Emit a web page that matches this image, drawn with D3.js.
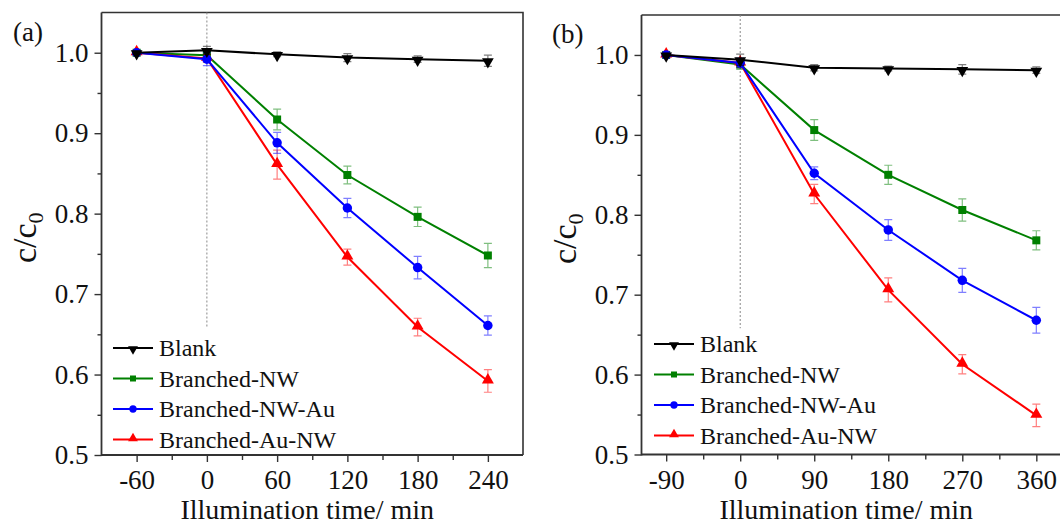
<!DOCTYPE html>
<html>
<head>
<meta charset="utf-8">
<script src="https://cdn.jsdelivr.net/npm/d3@7"></script>
<style>
  body { margin: 0; background: #fff; }
  svg { display: block; }
  svg text { font-family: "Liberation Serif", "Tinos", "Times New Roman", "DejaVu Serif", serif !important; fill: #111; }
</style>
</head>
<body>
<svg id="chart" width="1060" height="525" font-family="Liberation Serif, DejaVu Serif, serif"></svg>
<script>
// Series shared by both panels
const seriesNames = ["Blank", "Branched-NW", "Branched-NW-Au", "Branched-Au-NW"];
const seriesColors = ["#000000", "#008000", "#0000ff", "#ff0000"];
const seriesSymbols = ["down", "square", "circle", "up"];

// Panel (a): 60 min in the dark, then 240 min of illumination
const timesA = [-60, 0, 60, 120, 180, 240];
const blankA = [1.000, 1.003, 0.998, 0.994, 0.992, 0.990];
const nwA    = [1.000, 0.997, 0.917, 0.848, 0.796, 0.748];
const nwAuA  = [1.000, 0.992, 0.888, 0.807, 0.733, 0.661];
const auNwA  = [1.000, 0.993, 0.861, 0.746, 0.659, 0.592];
const blankErrA = [0.002, 0.005, 0.003, 0.005, 0.004, 0.007];
const nwErrA    = [0.002, 0.004, 0.013, 0.011, 0.012, 0.015];
const nwAuErrA  = [0.002, 0.008, 0.013, 0.012, 0.014, 0.012];
const auNwErrA  = [0.002, 0.005, 0.018, 0.010, 0.011, 0.014];
const xTicksA = [-60, 0, 60, 120, 180, 240];
const xMinorA = [-90, -30, 30, 90, 150, 210, 270];

// Panel (b): 90 min in the dark, then 360 min of illumination
const timesB = [-90, 0, 90, 180, 270, 360];
const blankB = [1.000, 0.994, 0.984, 0.983, 0.982, 0.981];
const nwB    = [1.000, 0.988, 0.906, 0.850, 0.806, 0.768];
const nwAuB  = [1.000, 0.990, 0.852, 0.781, 0.718, 0.668];
const auNwB  = [1.000, 0.990, 0.826, 0.706, 0.613, 0.549];
const blankErrB = [0.002, 0.007, 0.004, 0.003, 0.006, 0.004];
const nwErrB    = [0.002, 0.006, 0.013, 0.012, 0.014, 0.012];
const nwAuErrB  = [0.002, 0.006, 0.008, 0.013, 0.015, 0.016];
const auNwErrB  = [0.002, 0.005, 0.012, 0.015, 0.012, 0.014];
const xTicksB = [-90, 0, 90, 180, 270, 360];
const xMinorB = [-135, -45, 45, 135, 225, 315];

const yTicks = [0.5, 0.6, 0.7, 0.8, 0.9, 1.0];
const yMinor = [0.55, 0.65, 0.75, 0.85, 0.95, 1.05];

const panels = [
  {
    tag: "(a)", times: timesA,
    values: [blankA, nwA, nwAuA, auNwA],
    errors: [blankErrA, nwErrA, nwAuErrA, auNwErrA],
    xDomain: [-90, 270], xTicks: xTicksA, xMinor: xMinorA,
    box: { left: 101.5, right: 523, top: 12.5, bottom: 455 },
    tagPos: [13, 41],
    legend: { x: 113, y: 348, step: 30.5 }
  },
  {
    tag: "(b)", times: timesB,
    values: [blankB, nwB, nwAuB, auNwB],
    errors: [blankErrB, nwErrB, nwAuErrB, auNwErrB],
    xDomain: [-120, 390], xTicks: xTicksB, xMinor: xMinorB,
    box: { left: 641.5, right: 1061, top: 15, bottom: 454.5 },
    tagPos: [552, 43],
    legend: { x: 654, y: 344, step: 30.5 }
  }
];

const FONT = '"Liberation Serif", "Tinos", "Times New Roman", "DejaVu Serif", serif';
const svg = d3.select("#chart");
const axisColor = "#333";

function symbolPath(kind, size) {
  const type = kind === "square" ? d3.symbolSquare : kind === "circle" ? d3.symbolCircle : d3.symbolTriangle;
  return d3.symbol(type, size)();
}
function symbolTransform(kind, x, y) {
  if (kind === "down") return `translate(${x},${y + 1}) rotate(180)`;
  if (kind === "up") return `translate(${x},${y - 1})`;
  return `translate(${x},${y})`;
}
const markerSize = { square: 64, circle: 70, up: 62, down: 60 };
const legendMarkerSize = { square: 36, circle: 42, up: 42, down: 42 };

panels.forEach(p => {
  const b = p.box;
  const x = d3.scaleLinear().domain(p.xDomain).range([b.left, b.right]);
  const y = d3.scaleLinear().domain([0.5, 1.05]).range([b.bottom, b.top]);
  const g = svg.append("g");

  // frame: top and right edges
  g.append("path")
    .attr("d", `M${b.left},${b.top}H${b.right}V${b.bottom}`)
    .attr("fill", "none").attr("stroke", axisColor).attr("stroke-width", 1.6);

  // light-on marker at t = 0
  g.append("line")
    .attr("x1", x(0)).attr("x2", x(0))
    .attr("y1", y(1.05)).attr("y2", y(0.658))
    .attr("stroke", "#888").attr("stroke-width", 1).attr("stroke-dasharray", "2,2");

  // minor ticks
  g.append("g").attr("transform", `translate(0,${b.bottom})`)
    .call(d3.axisBottom(x).tickValues(p.xMinor.filter(v => v > p.xDomain[0] && v < p.xDomain[1])).tickSize(5).tickFormat(""))
    .call(s => s.select(".domain").remove())
    .call(s => s.selectAll("line").attr("stroke", axisColor).attr("stroke-width", 1.4));
  g.append("g").attr("transform", `translate(${b.left},0)`)
    .call(d3.axisLeft(y).tickValues(yMinor.filter(v => v < 1.05)).tickSize(4).tickFormat(""))
    .call(s => s.select(".domain").remove())
    .call(s => s.selectAll("line").attr("stroke", axisColor).attr("stroke-width", 1.4));

  // major axes
  const xa = g.append("g").attr("transform", `translate(0,${b.bottom})`)
    .call(d3.axisBottom(x).tickValues(p.xTicks).tickFormat(d => String(d))
      .tickSize(7).tickPadding(8).tickSizeOuter(0));
  const ya = g.append("g").attr("transform", `translate(${b.left},0)`)
    .call(d3.axisLeft(y).tickValues(yTicks).tickFormat(d3.format(".1f"))
      .tickSize(7).tickPadding(6).tickSizeOuter(0));
  [xa, ya].forEach(a => {
    a.attr("font-family", FONT).attr("font-size", 27);
    a.select(".domain").attr("stroke", axisColor).attr("stroke-width", 1.8);
    a.selectAll(".tick line").attr("stroke", axisColor).attr("stroke-width", 1.4);
    a.selectAll(".tick text").attr("fill", "#111");
  });
  ya.select(".domain").attr("d", `M0,${b.bottom + 0.9}V${b.top}`);
  xa.select(".domain").attr("d", `M${b.left},0H${b.right}`);

  // axis titles
  g.append("text")
    .attr("x", (b.left + b.right) / 2 - 5).attr("y", 519)
    .attr("text-anchor", "middle").attr("font-size", 28).attr("font-family", FONT)
    .text("Illumination time/ min");
  const yt = g.append("text")
    .attr("transform", `translate(${b.left - 66},${(b.top + b.bottom) / 2 + 4}) rotate(-90)`)
    .attr("text-anchor", "middle").attr("font-size", 34).attr("font-family", FONT);
  yt.append("tspan").text("c/c");
  yt.append("tspan").attr("font-size", 22).attr("dy", 7).text("0");

  // panel tag
  g.append("text").attr("x", p.tagPos[0]).attr("y", p.tagPos[1])
    .attr("font-size", 27).attr("font-family", FONT).text(p.tag);

  // series: error bars, lines, markers (Blank drawn last)
  const order = [1, 3, 2, 0];
  order.forEach(si => {
    const color = seriesColors[si];
    const kind = seriesSymbols[si];
    const vals = p.values[si], errs = p.errors[si];
    const pts = p.times.map((t, i) => [t, vals[i], errs[i]]);
    const eg = g.append("g").attr("stroke", color).attr("stroke-opacity", 0.5).attr("stroke-width", 1.2);
    eg.selectAll("path").data(pts).join("path")
      .attr("fill", "none")
      .attr("d", d => {
        const cx = x(d[0]), y0 = y(d[1] - d[2]), y1 = y(d[1] + d[2]);
        return `M${cx},${y0}V${y1}M${cx - 4},${y0}H${cx + 4}M${cx - 4},${y1}H${cx + 4}`;
      });
    g.append("path")
      .datum(pts)
      .attr("fill", "none").attr("stroke", color).attr("stroke-width", 2)
      .attr("d", d3.line().x(d => x(d[0])).y(d => y(d[1])));
    g.append("g").selectAll("path")
      .data(pts)
      .join("path")
      .attr("d", symbolPath(kind, markerSize[kind]))
      .attr("transform", d => symbolTransform(kind, x(d[0]), y(d[1])))
      .attr("fill", color);
  });

  // legend
  const L = p.legend;
  seriesNames.forEach((name, si) => {
    const ly = L.y + si * L.step;
    const kind = seriesSymbols[si];
    const lg = g.append("g");
    lg.append("line").attr("x1", L.x).attr("x2", L.x + 40).attr("y1", ly).attr("y2", ly)
      .attr("stroke", seriesColors[si]).attr("stroke-width", 2);
    lg.append("path").attr("d", symbolPath(kind, legendMarkerSize[kind]))
      .attr("transform", symbolTransform(kind, L.x + 20, ly))
      .attr("fill", seriesColors[si]);
    lg.append("text").attr("x", L.x + 46).attr("y", ly + 8)
      .attr("font-size", 24).attr("font-family", FONT).text(name);
  });
});
</script>
</body>
</html>
